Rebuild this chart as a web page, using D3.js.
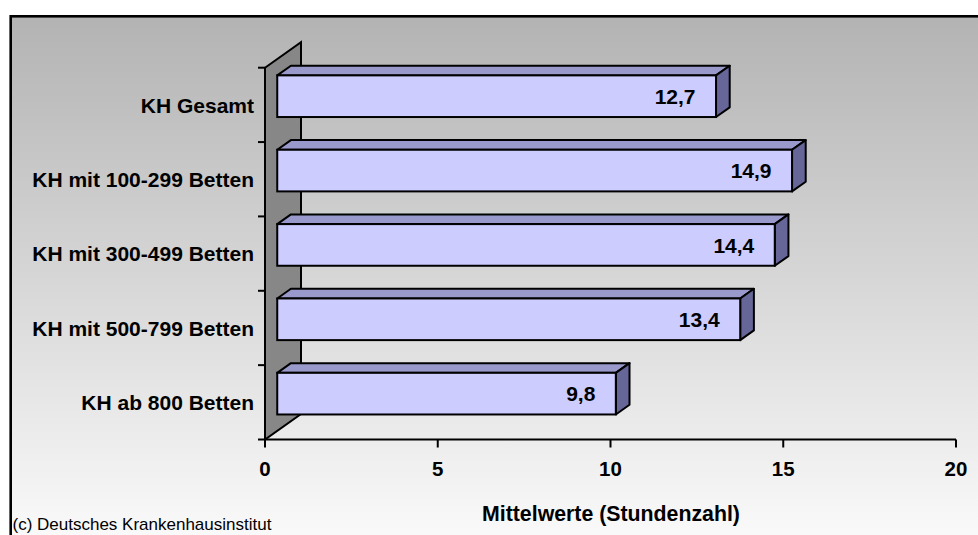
<!DOCTYPE html>
<html>
<head>
<meta charset="utf-8">
<script src="https://cdn.jsdelivr.net/npm/d3@7"></script>
<style>
  html, body { margin: 0; padding: 0; background: #ffffff; }
  svg { display: block; font-family: "Liberation Sans", Arial, Helvetica, sans-serif; }
</style>
</head>
<body>
<svg id="chart" width="978" height="535"></svg>
<script>
// ---- data ----
const categories = ["KH Gesamt", "KH mit 100-299 Betten", "KH mit 300-499 Betten", "KH mit 500-799 Betten", "KH ab 800 Betten"];
const values = [12.7, 14.9, 14.4, 13.4, 9.8];
const xTicks = [0, 5, 10, 15, 20];
const xTitle = "Mittelwerte (Stundenzahl)";
const sourceNote = "(c) Deutsches Krankenhausinstitut";

const svg = d3.select("#chart");
const W = 978, H = 535;

// background gradient
const defs = svg.append("defs");
const grad = defs.append("linearGradient").attr("id", "bg")
  .attr("x1", 0).attr("y1", 0).attr("x2", 0).attr("y2", 1);
grad.append("stop").attr("offset", "0%").attr("stop-color", "#b3b3b3");
grad.append("stop").attr("offset", "100%").attr("stop-color", "#fdfdfd");

svg.append("rect").attr("x", 10.7).attr("y", 16.3).attr("width", W + 10).attr("height", H + 10)
  .attr("fill", "url(#bg)").attr("stroke", "#000").attr("stroke-width", 2.6);

// scales (front plane)
const x = d3.scaleLinear().domain([0, 20]).range([265, 956]);
const y = d3.scaleBand().domain(categories).range([67.7, 439.5]).paddingInner(0.44).paddingOuter(0.22);

// 3D depth
const D = [36, -25.5];
const f1 = 0.34, f2 = 0.72;
const fx = D[0] * f1, fy = D[1] * f1;
const bx = D[0] * f2, by = D[1] * f2;

const y0 = 67.7, y1 = 439.5, x0 = x(0);

// wall
svg.append("polygon")
  .attr("points", [[x0, y0], [x0 + D[0], y0 + D[1]], [x0 + D[0], y1 + D[1]], [x0, y1]].map(p => p.join(",")).join(" "))
  .attr("fill", "#878787").attr("stroke", "#000").attr("stroke-width", 2).attr("stroke-linejoin", "miter");

// axes lines
svg.append("line").attr("x1", x0).attr("y1", y0).attr("x2", x0).attr("y2", y1)
  .attr("stroke", "#000").attr("stroke-width", 2);
svg.append("line").attr("x1", x0).attr("y1", y1).attr("x2", x(20)).attr("y2", y1)
  .attr("stroke", "#000").attr("stroke-width", 2);

// category boundary ticks
const step = y.step();
const catTicks = d3.range(categories.length + 1).map(i => y0 + i * step);
svg.selectAll(".ctick").data(catTicks).enter().append("line")
  .attr("x1", x0 - 7).attr("x2", x0).attr("y1", d => d).attr("y2", d => d)
  .attr("stroke", "#000").attr("stroke-width", 2);

// value ticks
svg.selectAll(".xtick").data(xTicks).enter().append("line")
  .attr("x1", d => x(d)).attr("x2", d => x(d)).attr("y1", y1).attr("y2", y1 + 8)
  .attr("stroke", "#000").attr("stroke-width", 2);
svg.selectAll(".xlab").data(xTicks).enter().append("text")
  .attr("x", d => x(d)).attr("y", 476).attr("text-anchor", "middle")
  .attr("font-size", "20.5px").attr("font-weight", "bold").attr("fill", "#000")
  .text(d => d);

// bars
const data = categories.map((c, i) => ({ c, v: values[i] }));
const g = svg.append("g");
data.forEach(d => {
  const L = x(0), R = x(d.v), T = y(d.c), B = y(d.c) + y.bandwidth();
  // top face
  g.append("polygon")
    .attr("points", [[L + fx, T + fy], [R + fx, T + fy], [R + bx, T + by], [L + bx, T + by]].map(p => p.join(",")).join(" "))
    .attr("fill", "#9999cc").attr("stroke", "#000").attr("stroke-width", 2).attr("stroke-linejoin", "round");
  // side face
  g.append("polygon")
    .attr("points", [[R + fx, T + fy], [R + bx, T + by], [R + bx, B + by], [R + fx, B + fy]].map(p => p.join(",")).join(" "))
    .attr("fill", "#666699").attr("stroke", "#000").attr("stroke-width", 2).attr("stroke-linejoin", "round");
  // front face
  g.append("rect")
    .attr("x", L + fx).attr("y", T + fy).attr("width", R - L).attr("height", B - T)
    .attr("fill", "#ccccff").attr("stroke", "#000").attr("stroke-width", 2);
  // value label
  g.append("text")
    .attr("x", R + fx - 20.5).attr("y", (T + B) / 2 + fy).attr("dy", "0.37em")
    .attr("text-anchor", "end").attr("font-size", "21px").attr("font-weight", "bold").attr("fill", "#000")
    .text(d3.format(".1f")(d.v).replace(".", ","));
});

// category labels
svg.selectAll(".clab").data(categories).enter().append("text")
  .attr("x", 254).attr("y", d => y(d) + y.bandwidth() / 2).attr("dy", "0.37em")
  .attr("text-anchor", "end").attr("font-size", "21px").attr("font-weight", "bold").attr("fill", "#000")
  .text(d => d);

// axis title
svg.append("text").attr("x", 611).attr("y", 521).attr("text-anchor", "middle")
  .attr("font-size", "21.3px").attr("font-weight", "bold").attr("fill", "#000").text(xTitle);

// source note
svg.append("text").attr("x", 12.5).attr("y", 530).attr("font-size", "17px").attr("fill", "#000").text(sourceNote);
</script>
</body>
</html>
